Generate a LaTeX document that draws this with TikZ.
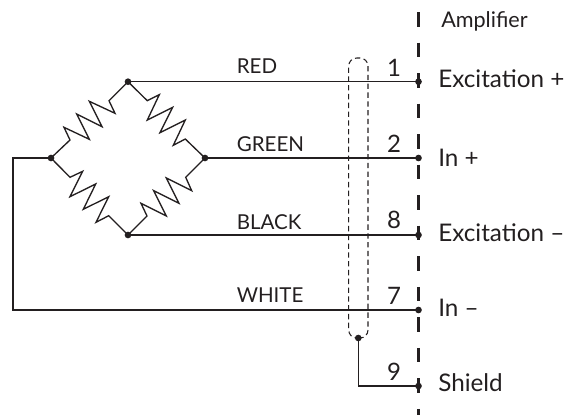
\documentclass[tikz,border=0pt]{standalone}
\usepackage{fontspec}
\setmainfont{Lato}
\definecolor{ink}{HTML}{231F20}
\newcommand{\fpx}[1]{\fontsize{#1}{#1}\selectfont}
\tikzset{
  px/.style={x=0.75pt,y=-0.75pt},
  wire/.style={draw=ink,line width=1pt,line join=miter},
  res/.style={draw=ink,line width=1pt,line join=miter},
  junction/.style={circle,fill=ink,inner sep=0pt,minimum size=5pt},
  wirelabel/.style={text=ink,font=\fpx{15.4},inner sep=0pt,anchor=base west},
  pinlabel/.style={text=ink,font=\fpx{18},inner sep=0pt,anchor=base},
  amplabel/.style={text=ink,font=\fpx{18.2},inner sep=0pt,anchor=base west},
  amphead/.style={text=ink,font=\fpx{16.2},inner sep=0pt,anchor=base west},
  ampline/.style={draw=ink,line width=2.3pt,dash pattern=on 10.9pt off 12pt},
  shieldline/.style={draw=ink,line width=0.8pt,dash pattern=on 4pt off 2.6pt},
}
\begin{document}
\begin{tikzpicture}[px]
\useasboundingbox (0,0) rectangle (565,415);
% amplifier boundary
\coordinate (ampTop) at (418.5,12);
\coordinate (ampBot) at (418.5,415);
\draw[ampline] (ampTop) -- (ampBot);
% bridge junctions
\node[junction] (T) at (128,81.7) {};
\node[junction] (L) at (51,158) {};
\node[junction] (R) at (205,158) {};
\node[junction] (B) at (128,235) {};
% amplifier pins
\node[junction] (p1) at (418.5,81.7) {};
\node[junction] (p2) at (418.5,158) {};
\node[junction] (p8) at (418.5,235) {};
\node[junction] (p7) at (418.5,310) {};
\node[junction] (p9) at (418.5,386) {};
\node[junction] (sh) at (358.3,338) {};
\coordinate (wTop) at (13,158);
\coordinate (wBot) at (13,310);
\coordinate (sBot) at (358.3,386);
% resistors
\draw[res] (L.center) -- (70,140) -- (64,127.3) -- (89.3,139.3) -- (76.7,114) -- (102,126.7) -- (89.3,101.3) -- (115,113.3) -- (109,100.7) -- (T.center);
\draw[res] (T.center) -- (147.3,100.7) -- (159.3,94.7) -- (147.3,120) -- (172.7,107.3) -- (160,132.7) -- (185.3,120) -- (173.3,145.3) -- (185.3,139) -- (R.center);
\draw[res] (L.center) -- (70,177.3) -- (82.7,171.3) -- (70,196.7) -- (95.7,184) -- (83.3,209.3) -- (108.7,196.7) -- (96,222.3) -- (108.7,215.7) -- (B.center);
\draw[res] (B.center) -- (147,216) -- (141,203.3) -- (166.3,216) -- (153.7,190.7) -- (179,203.3) -- (166.3,178) -- (191.7,190.7) -- (185.7,177.3) -- (R.center);
% wires
\draw[wire] (T.center) -- (p1.center);
\draw[wire] (R.center) -- (p2.center);
\draw[wire] (B.center) -- (p8.center);
\draw[wire] (L.center) -- (wTop) -- (wBot) -- (p7.center);
\draw[wire] (sh.center) -- (sBot) -- (p9.center);
% shield
\coordinate (sa) at (348.7,338);
\coordinate (sb) at (368,338);
\coordinate (sc) at (368,58);
\coordinate (sd) at (348.7,58);
\draw[shieldline,rounded corners=6pt] (sh.center) -- (sb) -- (sc) -- (sd) -- (sa) -- (sh.center);
% wire labels
\node[wirelabel] (lr) at (236.5,73) {RED};
\node[wirelabel] (lg) at (236.5,151) {GREEN};
\node[wirelabel] (lk) at (236.5,229) {BLACK};
\node[wirelabel] (lw) at (236.5,302) {WHITE};
% pin numbers
\node[pinlabel] (n1) at (394,76) {1};
\node[pinlabel] (n2) at (394,152) {2};
\node[pinlabel] (n8) at (394,228) {8};
\node[pinlabel] (n7) at (394,304) {7};
\node[pinlabel] (n9) at (394,380) {9};
% amplifier labels
\node[amphead] (a0) at (441,27) {Amplifier};
\node[amplabel] (a1) at (438,87) {Excitation +};
\node[amplabel] (a2) at (438,166) {In +};
\node[amplabel] (a8) at (438,241) {Excitation –};
\node[amplabel] (a7) at (438,316) {In –};
\node[amplabel] (a9) at (438,391) {Shield};
\end{tikzpicture}
\end{document}
